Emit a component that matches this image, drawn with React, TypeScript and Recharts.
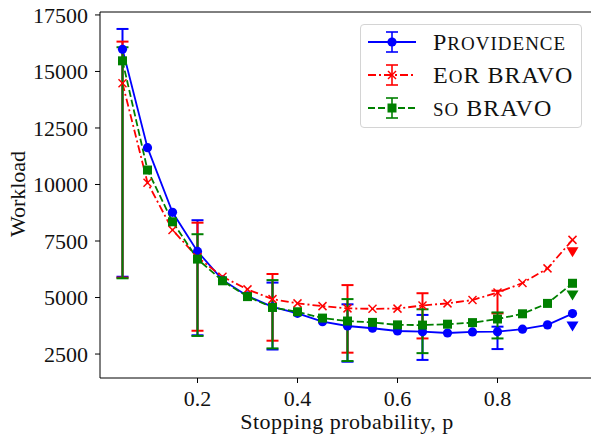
import React from "react";
import { LineChart, Line, XAxis, YAxis, ErrorBar, Legend, ReferenceLine } from "recharts";

const FONT = "'Liberation Serif', 'DejaVu Serif', serif";

// stopping probability p
const pValues = [0.05, 0.1, 0.15, 0.2, 0.25, 0.3, 0.35, 0.4, 0.45, 0.5, 0.55, 0.6, 0.65, 0.7, 0.75, 0.8, 0.85, 0.9, 0.95];

// mean workload per method
const providence = [15980, 11630, 8770, 7040, 5780, 5070, 4590, 4300, 3930, 3740, 3640, 3520, 3490, 3430, 3480, 3490, 3600, 3790, 4290];
const eorBravo = [14480, 10080, 7990, 6780, 5920, 5360, 4930, 4740, 4620, 4520, 4500, 4510, 4650, 4740, 4890, 5220, 5640, 6290, 7550];
const soBravo = [15470, 10640, 8350, 6700, 5740, 5040, 4560, 4370, 4090, 3960, 3900, 3790, 3780, 3820, 3890, 4050, 4280, 4740, 5630];

// error bars are drawn at every third p (0.05, 0.2, 0.35, 0.5, 0.65, 0.8)
const errIndex = [0, 3, 6, 9, 12, 15];
const providenceLow = [5920, 3330, 2700, 2160, 2240, 2720];
const providenceHigh = [16880, 8420, 5660, 4700, 4230, 3710];
const eorLow = [5880, 3530, 3090, 2560, 3190, 4300];
const eorHigh = [16320, 8310, 6040, 5550, 5190, 5300];
const soLow = [5850, 3300, 2750, 2190, 2540, 3190];
const soHigh = [16070, 7800, 5770, 4930, 4480, 4340];

// limit markers (down triangles) at p = 0.95
const limIndex = 18;
const providenceLim = 3740;
const eorLim = 7020;
const soLim = 5110;

const xTicks = [0.2, 0.4, 0.6, 0.8];
const yTicks = [2500, 5000, 7500, 10000, 12500, 15000, 17500];

const BLUE = "#0000ff";
const RED = "#ff0000";
const GREEN = "#008000";
const TEXT = "#111";

const data = pValues.map((p, i) => {
  const k = errIndex.indexOf(i);
  return {
    p,
    prov: providence[i],
    eor: eorBravo[i],
    so: soBravo[i],
    provErr: k >= 0 ? [providence[i] - providenceLow[k], providenceHigh[k] - providence[i]] : null,
    eorErr: k >= 0 ? [eorBravo[i] - eorLow[k], eorHigh[k] - eorBravo[i]] : null,
    soErr: k >= 0 ? [soBravo[i] - soLow[k], soHigh[k] - soBravo[i]] : null,
    provLim: i === limIndex ? providenceLim : null,
    eorLim: i === limIndex ? eorLim : null,
    soLim: i === limIndex ? soLim : null,
  };
});

const circleDot = (props: any) => {
  const { cx, cy, index } = props;
  if (cx == null || cy == null) return <g key={index} />;
  return <circle key={index} cx={cx} cy={cy} r={4.6} fill={BLUE} />;
};

const crossDot = (props: any) => {
  const { cx, cy, index } = props;
  if (cx == null || cy == null) return <g key={index} />;
  const s = 4;
  return (
    <g key={index} stroke={RED} strokeWidth={1.5}>
      <line x1={cx - s} y1={cy - s} x2={cx + s} y2={cy + s} />
      <line x1={cx - s} y1={cy + s} x2={cx + s} y2={cy - s} />
    </g>
  );
};

const squareDot = (props: any) => {
  const { cx, cy, index } = props;
  if (cx == null || cy == null) return <g key={index} />;
  return <rect key={index} x={cx - 4.5} y={cy - 4.5} width={9} height={9} fill={GREEN} />;
};

const triangleDot = (color: string) => (props: any) => {
  const { cx, cy, index, value } = props;
  if (cx == null || cy == null || value == null) return <g key={index} />;
  return (
    <polygon
      key={index}
      points={`${cx - 6},${cy - 4.5} ${cx + 6},${cy - 4.5} ${cx},${cy + 5.5}`}
      fill={color}
    />
  );
};

const sc = (s: string) => <span style={{ fontSize: 19 }}>{s}</span>;

const legendItems = [
  { color: BLUE, dash: undefined, marker: "circle", label: <span>P{sc("ROVIDENCE")}</span> },
  { color: RED, dash: "8 3 2 3", marker: "cross", label: <span>E{sc("O")}R BRAVO</span> },
  { color: GREEN, dash: "7 3", marker: "square", label: <span>{sc("SO")} BRAVO</span> },
];

const LegendBox = () => (
  <div
    style={{
      width: 222,
      height: 104,
      boxSizing: "border-box",
      border: "1px solid #d4d4d4",
      borderRadius: 4,
      background: "rgba(255,255,255,0.85)",
      fontFamily: FONT,
      fontSize: 24,
      color: TEXT,
      paddingTop: 1,
    }}
  >
    {legendItems.map((it, i) => (
      <div key={i} style={{ display: "flex", alignItems: "center", height: 32.7 }}>
        <svg width={66} height={30} style={{ flex: "none", marginLeft: 6 }}>
          <line x1={1} y1={15} x2={49} y2={15} stroke={it.color} strokeWidth={1.8} strokeDasharray={it.dash} />
          <line x1={25} y1={5} x2={25} y2={25} stroke={it.color} strokeWidth={1.6} />
          <line x1={19} y1={5} x2={31} y2={5} stroke={it.color} strokeWidth={1.6} />
          <line x1={19} y1={25} x2={31} y2={25} stroke={it.color} strokeWidth={1.6} />
          {it.marker === "circle" && <circle cx={25} cy={15} r={4.6} fill={it.color} />}
          {it.marker === "square" && <rect x={20.5} y={10.5} width={9} height={9} fill={it.color} />}
          {it.marker === "cross" && (
            <g stroke={it.color} strokeWidth={1.5}>
              <line x1={21} y1={11} x2={29} y2={19} />
              <line x1={21} y1={19} x2={29} y2={11} />
            </g>
          )}
        </svg>
        <span style={{ whiteSpace: "nowrap", letterSpacing: 1, lineHeight: 1 }}>{it.label}</span>
      </div>
    ))}
  </div>
);

const tickStyle = { fontFamily: FONT, fontSize: 22, fill: TEXT };

const XLabel = () => (
  <text x={347} y={429} textAnchor="middle" fontFamily={FONT} fontSize={22} letterSpacing={0.5} fill={TEXT}>
    Stopping probability, p
  </text>
);

const YLabel = () => (
  <text
    x={25}
    y={194}
    textAnchor="middle"
    transform="rotate(-90, 25, 194)"
    fontFamily={FONT}
    fontSize={22}
    fill={TEXT}
  >
    Workload
  </text>
);

export default function App() {
  return (
    <div style={{ position: "absolute", left: 0, top: 0, width: 591, height: 436, overflow: "hidden", background: "#fff" }}>
      <LineChart width={600} height={436} data={data} margin={{ top: 12, right: 5, bottom: 0, left: 0 }}>
        <XAxis
          dataKey="p"
          type="number"
          domain={[0.005, 0.995]}
          allowDataOverflow
          ticks={xTicks}
          tickFormatter={(v: number) => v.toFixed(1)}
          tick={tickStyle}
          tickSize={5}
          tickMargin={7}
          height={58}
          stroke="#000"
          label={<XLabel />}
        />
        <YAxis
          type="number"
          domain={[1440, 17630]}
          allowDataOverflow
          ticks={yTicks}
          tick={tickStyle}
          tickSize={5}
          tickMargin={7}
          width={100}
          stroke="#000"
          label={<YLabel />}
        />
        <ReferenceLine y={17630} stroke="#000" strokeWidth={1} ifOverflow="visible" />

        <Line dataKey="prov" stroke={BLUE} strokeWidth={1.8} dot={circleDot} activeDot={false} isAnimationActive={false}>
          <ErrorBar dataKey="provErr" stroke={BLUE} strokeWidth={2} strokeDasharray="none" opacity={1} width={6} isAnimationActive={false} />
        </Line>
        <Line dataKey="eor" stroke={RED} strokeWidth={1.8} strokeDasharray="8 3 2 3" dot={crossDot} activeDot={false} isAnimationActive={false}>
          <ErrorBar dataKey="eorErr" stroke={RED} strokeWidth={2} strokeDasharray="none" opacity={1} width={6} isAnimationActive={false} />
        </Line>
        <Line dataKey="so" stroke={GREEN} strokeWidth={1.8} strokeDasharray="7 3" dot={squareDot} activeDot={false} isAnimationActive={false}>
          <ErrorBar dataKey="soErr" stroke={GREEN} strokeWidth={2} strokeDasharray="none" opacity={1} width={6} isAnimationActive={false} />
        </Line>

        <Line dataKey="provLim" stroke="none" dot={triangleDot(BLUE)} activeDot={false} isAnimationActive={false} legendType="none" />
        <Line dataKey="eorLim" stroke="none" dot={triangleDot(RED)} activeDot={false} isAnimationActive={false} legendType="none" />
        <Line dataKey="soLim" stroke="none" dot={triangleDot(GREEN)} activeDot={false} isAnimationActive={false} legendType="none" />

        <Legend
          layout="vertical"
          align="center"
          verticalAlign="middle"
          wrapperStyle={{ left: 360, top: 24, width: 222, height: 104 }}
          content={() => <LegendBox />}
        />
      </LineChart>
    </div>
  );
}
